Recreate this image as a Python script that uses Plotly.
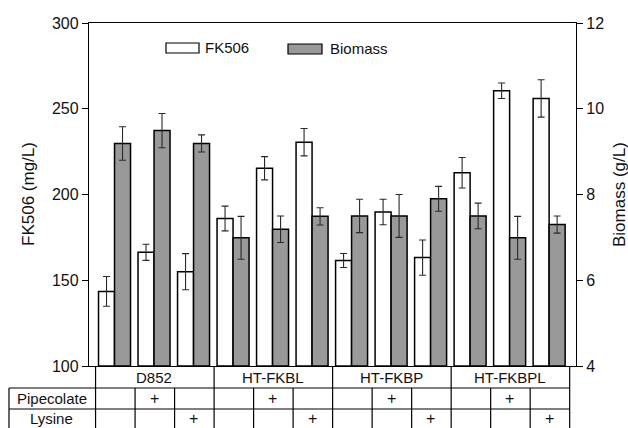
import plotly.graph_objects as go

# ---------------- data ----------------
strains = ["D852", "HT-FKBL", "HT-FKBP", "HT-FKBPL"]
pipecolate_marks = ["", "+", "", "", "+", "", "", "+", "", "", "+", ""]
lysine_marks = ["", "", "+", "", "", "+", "", "", "+", "", "", "+"]
fk506 = [143.5, 166.3, 155.0, 186.0, 215.3, 230.5, 161.5, 189.8, 163.2, 212.7, 260.5, 256.0]
fk506_err = [8.7, 4.7, 10.5, 7.2, 6.8, 8.0, 4.1, 7.4, 10.3, 8.9, 4.5, 10.9]
biomass = [9.19, 9.49, 9.19, 6.99, 7.19, 7.49, 7.50, 7.50, 7.90, 7.50, 6.99, 7.30]
biomass_err = [0.39, 0.40, 0.20, 0.50, 0.31, 0.20, 0.39, 0.50, 0.29, 0.30, 0.50, 0.20]
left_ticks = [100, 150, 200, 250, 300]
right_ticks = [4, 6, 8, 10, 12]

# ---------------- layout constants ----------------
W, H = 628, 428
ML, MR, MT, MB = 89, 52, 23, 62
PW, PH = W - ML - MR, H - MT - MB
XMIN, XMAX = -0.646, 11.68
BW = 0.405
FONT = "Liberation Sans, Arial, sans-serif"
GRAY = "#999999"

def xp(v):  # data x -> paper
    return (v - XMIN) / (XMAX - XMIN)

def pxx(px):  # pixel x -> paper
    return (px - ML) / PW

def pxy(py):  # pixel y -> paper
    return (H - MB - py) / PH

n = len(fk506)
xs = list(range(n))

fig = go.Figure()
fig.add_trace(go.Bar(
    x=xs, y=[v - left_ticks[0] for v in fk506], base=left_ticks[0],
    width=BW, offset=-BW, marker=dict(color="white", line=dict(color="black", width=1.5)),
    error_y=dict(type="data", array=fk506_err, color="#2a2a2a", thickness=1.1, width=3.5),
    name="FK506", yaxis="y", showlegend=False))
fig.add_trace(go.Bar(
    x=xs, y=[v - right_ticks[0] for v in biomass], base=right_ticks[0],
    width=BW, offset=0, marker=dict(color=GRAY, line=dict(color="black", width=1.5)),
    error_y=dict(type="data", array=biomass_err, color="#2a2a2a", thickness=1.1, width=3.5),
    name="Biomass", yaxis="y2", showlegend=False))

shapes = []
annotations = []
line = dict(color="black", width=1.2)

# table geometry (pixel rows)
y_r1_bot = pxy(388)
y_r2_bot = pxy(409)
y_bottom = pxy(432)
x_left_px = 9
col_edge = lambda k: xp(k - 0.5 + 0.02)

# horizontal lines
for yy in (y_r1_bot, y_r2_bot):
    shapes.append(dict(type="line", xref="paper", yref="paper", x0=pxx(x_left_px), x1=col_edge(n),
                       y0=yy, y1=yy, line=line))
# left border of label column
shapes.append(dict(type="line", xref="paper", yref="paper", x0=pxx(x_left_px), x1=pxx(x_left_px),
                   y0=y_r1_bot, y1=y_bottom, line=line))
# strain row vertical lines
for g in range(len(strains) + 1):
    xx = col_edge(g * 3)
    shapes.append(dict(type="line", xref="paper", yref="paper", x0=xx, x1=xx,
                       y0=0, y1=y_r1_bot, line=line))
# condition rows vertical lines
for k in range(n + 1):
    xx = col_edge(k)
    shapes.append(dict(type="line", xref="paper", yref="paper", x0=xx, x1=xx,
                       y0=y_r1_bot, y1=y_bottom, line=line))

tfont = dict(family=FONT, size=15, color="#111")
pfont = dict(family=FONT, size=16, color="#111")
for g, s in enumerate(strains):
    annotations.append(dict(text=s, xref="x", yref="paper", x=g * 3 + 1, y=pxy(377.5),
                            showarrow=False, xanchor="center", yanchor="middle", font=tfont))
for k in range(n):
    if pipecolate_marks[k]:
        annotations.append(dict(text=pipecolate_marks[k], xref="x", yref="paper", x=k, y=pxy(398.5),
                                showarrow=False, xanchor="center", yanchor="middle", font=pfont))
    if lysine_marks[k]:
        annotations.append(dict(text=lysine_marks[k], xref="x", yref="paper", x=k, y=pxy(418),
                                showarrow=False, xanchor="center", yanchor="middle", font=pfont))
annotations.append(dict(text="Pipecolate", xref="paper", yref="paper", x=pxx(51.5), y=pxy(398.5),
                        showarrow=False, xanchor="center", yanchor="middle", font=tfont))
annotations.append(dict(text="Lysine", xref="paper", yref="paper", x=pxx(51.5), y=pxy(418.5),
                        showarrow=False, xanchor="center", yanchor="middle", font=tfont))

# axis titles
afont = dict(family=FONT, size=17, color="#111")
annotations.append(dict(text="FK506 (mg/L)", xref="paper", yref="paper", x=pxx(28.5), y=0.5,
                        textangle=-90, showarrow=False, xanchor="center", yanchor="middle", font=afont))
annotations.append(dict(text="Biomass (g/L)", xref="paper", yref="paper", x=pxx(619.5), y=0.5,
                        textangle=-90, showarrow=False, xanchor="center", yanchor="middle", font=afont))

# legend (manual)
lfont = dict(family=FONT, size=15, color="#111")
shapes.append(dict(type="rect", xref="paper", yref="paper", x0=pxx(166), x1=pxx(199),
                   y0=pxy(53), y1=pxy(43), fillcolor="white", line=dict(color="black", width=1.2)))
annotations.append(dict(text="FK506", xref="paper", yref="paper", x=pxx(203), y=pxy(47.5),
                        showarrow=False, xanchor="left", yanchor="middle", font=lfont))
shapes.append(dict(type="rect", xref="paper", yref="paper", x0=pxx(288), x1=pxx(322),
                   y0=pxy(54), y1=pxy(44), fillcolor=GRAY, line=dict(color="black", width=1.2)))
annotations.append(dict(text="Biomass", xref="paper", yref="paper", x=pxx(328), y=pxy(48.5),
                        showarrow=False, xanchor="left", yanchor="middle", font=lfont))

tickfont = dict(family=FONT, size=16, color="#111")
fig.update_layout(
    width=W, height=H,
    margin=dict(l=ML, r=MR, t=MT, b=MB, pad=0),
    paper_bgcolor="white", plot_bgcolor="white",
    barmode="overlay",
    xaxis=dict(range=[XMIN, XMAX], showgrid=False, zeroline=False, showticklabels=False,
               ticks="", showline=True, linecolor="black", linewidth=1.3, mirror=True, fixedrange=True),
    yaxis=dict(range=[left_ticks[0], left_ticks[-1]], tickvals=left_ticks, showgrid=False, zeroline=False,
               ticks="outside", ticklen=6, tickwidth=1.2, tickcolor="black",
               showline=True, linecolor="black", linewidth=1.3, tickfont=tickfont),
    yaxis2=dict(range=[right_ticks[0], right_ticks[-1]], tickvals=right_ticks, overlaying="y", side="right",
                showgrid=False, zeroline=False, ticks="outside", ticklen=6, tickwidth=1.2, tickcolor="black",
                showline=True, linecolor="black", linewidth=1.3, tickfont=tickfont),
    shapes=shapes, annotations=annotations, showlegend=False,
)

fig.write_html("out.html")
